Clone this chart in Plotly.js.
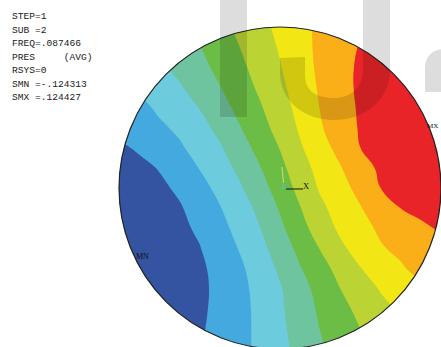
<!DOCTYPE html>
<html>
<head>
<meta charset="utf-8">
<script src="https://cdn.plot.ly/plotly-3.0.1.min.js"></script>
<style>html,body{margin:0;padding:0;background:#fff;overflow:hidden}#chart{width:441px;height:347px}</style>
</head>
<body>
<div id="chart"></div>
<script>
// ---- data ----
// model coordinates: circle of radius 1 centred at (0,0)
const gridX = [-1, -0.875, -0.75, -0.625, -0.5, -0.375, -0.25, -0.125, 0, 0.125, 0.25, 0.375, 0.5, 0.625, 0.75, 0.875, 1];
const gridY = [1, 0.875, 0.75, 0.625, 0.5, 0.375, 0.25, 0.125, 0, -0.125, -0.25, -0.375, -0.5, -0.625, -0.75, -0.875, -1];
// nodal pressure (PRES, AVG), rows top to bottom
const pressure = [
  [-0.0491, -0.0425, -0.0317, -0.0204, -0.0082, 0.0056, 0.0197, 0.0338, 0.0479, 0.0620, 0.0741, 0.0844, 0.0943, 0.1020, 0.1090, 0.1159, 0.1228],
  [-0.0555, -0.0480, -0.0395, -0.0270, -0.0146, -0.0005, 0.0139, 0.0288, 0.0440, 0.0603, 0.0747, 0.0874, 0.0984, 0.1054, 0.1123, 0.1192, 0.1244],
  [-0.0638, -0.0549, -0.0461, -0.0353, -0.0215, -0.0071, 0.0081, 0.0238, 0.0399, 0.0575, 0.0744, 0.0893, 0.1004, 0.1073, 0.1142, 0.1211, 0.1244],
  [-0.0765, -0.0649, -0.0544, -0.0439, -0.0301, -0.0149, 0.0014, 0.0183, 0.0354, 0.0540, 0.0725, 0.0893, 0.1007, 0.1076, 0.1145, 0.1214, 0.1244],
  [-0.0887, -0.0765, -0.0643, -0.0525, -0.0406, -0.0237, -0.0066, 0.0111, 0.0302, 0.0498, 0.0700, 0.0874, 0.0998, 0.1067, 0.1137, 0.1206, 0.1244],
  [-0.0867, -0.0801, -0.0735, -0.0641, -0.0502, -0.0345, -0.0151, 0.0037, 0.0236, 0.0451, 0.0664, 0.0846, 0.0990, 0.1059, 0.1128, 0.1197, 0.1244],
  [-0.1014, -0.0931, -0.0829, -0.0726, -0.0594, -0.0444, -0.0254, -0.0052, 0.0150, 0.0385, 0.0584, 0.0777, 0.0968, 0.1037, 0.1106, 0.1175, 0.1244],
  [-0.1108, -0.1033, -0.0953, -0.0817, -0.0682, -0.0525, -0.0353, -0.0151, 0.0064, 0.0302, 0.0506, 0.0675, 0.0877, 0.1007, 0.1076, 0.1145, 0.1214],
  [-0.1166, -0.1091, -0.1019, -0.0923, -0.0779, -0.0621, -0.0447, -0.0243, -0.0019, 0.0222, 0.0446, 0.0600, 0.0772, 0.0968, 0.1037, 0.1106, 0.1175],
  [-0.1213, -0.1138, -0.1063, -0.0992, -0.0862, -0.0707, -0.0536, -0.0345, -0.0113, 0.0128, 0.0357, 0.0528, 0.0678, 0.0827, 0.0971, 0.1040, 0.1109],
  [-0.1243, -0.1169, -0.1097, -0.1022, -0.0928, -0.0773, -0.0605, -0.0422, -0.0196, 0.0042, 0.0271, 0.0465, 0.0611, 0.0733, 0.0824, 0.0918, 0.0998],
  [-0.1243, -0.1199, -0.1124, -0.1052, -0.0978, -0.0831, -0.0674, -0.0494, -0.0287, -0.0063, 0.0150, 0.0363, 0.0523, 0.0669, 0.0747, 0.0810, 0.0874],
  [-0.1243, -0.1229, -0.1155, -0.1080, -0.1008, -0.0895, -0.0737, -0.0560, -0.0370, -0.0154, 0.0042, 0.0227, 0.0407, 0.0534, 0.0661, 0.0774, 0.0885],
  [-0.1243, -0.1235, -0.1163, -0.1088, -0.1014, -0.0914, -0.0765, -0.0605, -0.0436, -0.0237, -0.0046, 0.0139, 0.0294, 0.0434, 0.0534, 0.0633, 0.0736],
  [-0.1243, -0.1229, -0.1157, -0.1083, -0.1008, -0.0909, -0.0773, -0.0624, -0.0455, -0.0273, -0.0096, 0.0061, 0.0208, 0.0346, 0.0454, 0.0534, 0.0611],
  [-0.1243, -0.1218, -0.1144, -0.1069, -0.0997, -0.0892, -0.0768, -0.0632, -0.0472, -0.0303, -0.0132, 0.0003, 0.0139, 0.0263, 0.0390, 0.0515, 0.0636],
  [-0.1243, -0.1199, -0.1124, -0.1052, -0.0978, -0.0873, -0.0762, -0.0638, -0.0489, -0.0334, -0.0171, -0.0041, 0.0078, 0.0197, 0.0313, 0.0426, 0.0551]
];
const SMN = -0.124313;
const SMX = 0.124427;
const nBands = 9;
const infoLines = ["STEP=1", "SUB =2", "FREQ=.087466", "PRES     (AVG)", "RSYS=0", "SMN =-.124313", "SMX =.124427"];
const minLabel = "MN";
const maxLabel = "MX";

// ---- styling ----
const bandColors = ["#3453A0", "#44A9DF", "#6CCBDC", "#6EC49E", "#6BBD45", "#BBD433", "#F2E614", "#FAAF19", "#E92429"];
const CX = 280, CY = 188, R = 161; // pixel geometry of the model circle
const X = px => (px - CX) / R;
const Y = py => (CY - py) / R;
const path = cmds => cmds.map(c => c[0] + ' ' + c.slice(1).reduce((a, v, i) => { a.push(i % 2 === 0 ? X(v).toFixed(4) : Y(v).toFixed(4)); return a; }, []).join(' ')).join(' ');

const step = (SMX - SMN) / nBands;

const trace = {
  type: 'contour',
  x: gridX,
  y: gridY.slice().reverse(),
  z: pressure.slice().reverse(),
  autocontour: false,
  contours: { start: SMN + step, end: SMN + (nBands - 1) * step, size: step, coloring: 'fill', showlines: false },
  line: { width: 0, smoothing: 1.3 },
  colorscale: bandColors.map((c, i) => [i / (nBands - 1), c]),
  showscale: false,
  hoverinfo: 'skip'
};

// mask outside the circle
let ring = [];
for (let i = 0; i <= 240; i++) {
  const a = 2 * Math.PI * i / 240;
  ring.push((i === 0 ? 'M ' : 'L ') + Math.cos(a).toFixed(5) + ' ' + Math.sin(a).toFixed(5));
}
const maskPath = 'M -3 -3 L 3 -3 L 3 3 L -3 3 Z ' + ring.join(' ') + ' Z';

const wm = 'rgba(0,0,0,0.135)';
const shapes = [
  { type: 'path', path: maskPath, fillcolor: '#ffffff', fillrule: 'evenodd', line: { width: 0 }, xref: 'x', yref: 'y' },
  { type: 'circle', x0: -1, x1: 1, y0: -1, y1: 1, xref: 'x', yref: 'y', line: { color: '#222', width: 1.2 } },
  // watermark
  { type: 'rect', x0: X(220), x1: X(247), y0: Y(-5), y1: Y(117), fillcolor: wm, line: { width: 0 }, xref: 'x', yref: 'y' },
  { type: 'path', xref: 'x', yref: 'y', fillcolor: wm, line: { width: 0 },
    path: path([['M', 280, 58], ['L', 305, 57], ['L', 305, 75], ['C', 305, 92, 318, 98, 334, 98], ['C', 350, 98, 363, 88, 363, 70], ['L', 363, -5], ['L', 390, -5], ['L', 390, 70], ['C', 390, 100, 365, 120, 334, 120], ['C', 303, 120, 281, 100, 280, 75]]) + ' Z' },
  { type: 'path', xref: 'x', yref: 'y', fillcolor: wm, line: { width: 0 },
    path: path([['M', 445, 49], ['C', 433, 49, 425, 56, 425, 68], ['L', 425, 92], ['L', 445, 92]]) + ' Z' },
  // axis triad
  { type: 'line', xref: 'x', yref: 'y', x0: X(286), y0: Y(189), x1: X(303), y1: Y(189), line: { color: '#111', width: 1 } },
  { type: 'line', xref: 'x', yref: 'y', x0: X(282), y0: Y(167), x1: X(283.5), y1: Y(183), line: { color: '#d4e25a', width: 1 } }
];

const annotations = infoLines.map((t, i) => ({
  text: t.replace(/ /g, '\u00A0'), x: X(10), y: Y(16.5 + 13.5 * i), xref: 'x', yref: 'y',
  xanchor: 'left', yanchor: 'middle', showarrow: false,
  font: { family: 'Liberation Mono, monospace', size: 9.6, color: '#1a1a1a' }
}));
annotations.push(
  { text: minLabel, x: X(134), y: Y(256.5), xref: 'x', yref: 'y', xanchor: 'left', yanchor: 'middle', showarrow: false,
    font: { family: 'Liberation Serif, serif', size: 8, color: '#111' } },
  { text: maxLabel, x: X(440), y: Y(125.5), xref: 'x', yref: 'y', xanchor: 'right', yanchor: 'middle', showarrow: false,
    font: { family: 'Liberation Serif, serif', size: 7, color: '#111' } },
  { text: 'Z', x: X(284.5), y: Y(186), xref: 'x', yref: 'y', xanchor: 'center', yanchor: 'middle', showarrow: false,
    font: { family: 'Liberation Sans, sans-serif', size: 7, color: '#4fc0ea' } },
  { text: 'X', x: X(305.5), y: Y(186), xref: 'x', yref: 'y', xanchor: 'center', yanchor: 'middle', showarrow: false,
    font: { family: 'Liberation Serif, serif', size: 8.5, color: '#111' } }
);

const layout = {
  width: 441, height: 347,
  margin: { l: 0, r: 0, t: 0, b: 0, pad: 0 },
  paper_bgcolor: '#ffffff', plot_bgcolor: '#ffffff',
  xaxis: { range: [X(0), X(441)], visible: false, fixedrange: true },
  yaxis: { range: [Y(347), Y(0)], visible: false, fixedrange: true },
  showlegend: false,
  shapes: shapes,
  annotations: annotations
};

Plotly.newPlot('chart', [trace], layout, { displayModeBar: false, staticPlot: true });
</script>
</body>
</html>
